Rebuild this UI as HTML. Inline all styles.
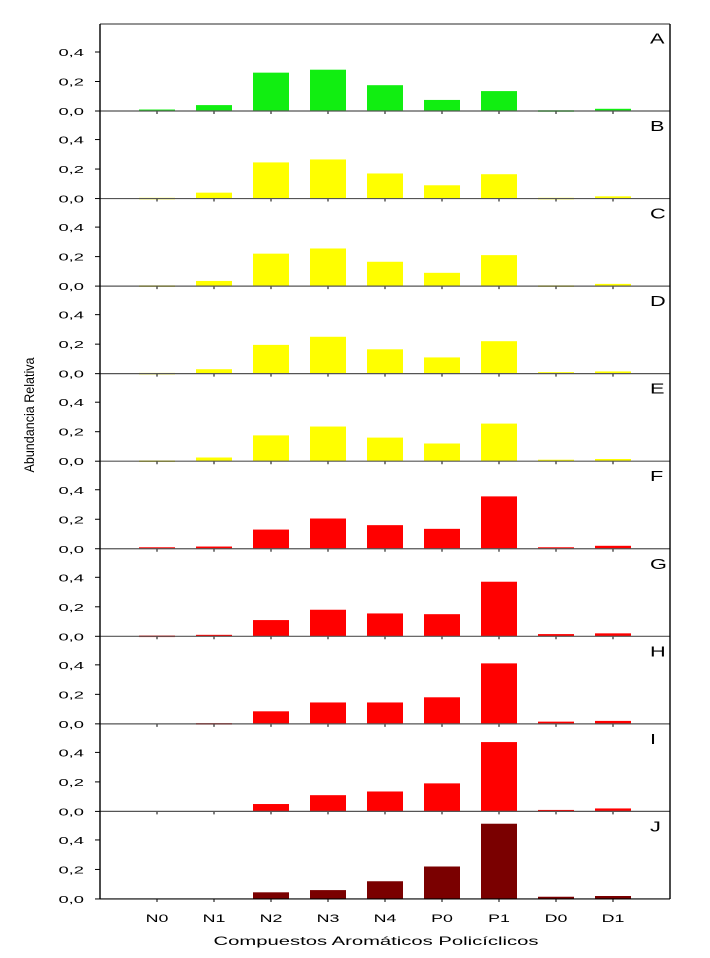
<!DOCTYPE html>
<html><head><meta charset="utf-8"><style>
html,body{margin:0;padding:0;background:#fff;}
svg{display:block;font-family:"Liberation Sans",Arial,sans-serif;}
</style></head><body>
<svg id="s" width="710" height="958" xmlns="http://www.w3.org/2000/svg"></svg>
<script>
const s=document.getElementById('s');
const data={
A:[.01,.04,.26,.28,.175,.075,.135,.005,.015],
B:[.005,.04,.245,.265,.17,.09,.165,.005,.015],
C:[.005,.035,.22,.255,.165,.09,.21,.005,.015],
D:[.005,.03,.195,.25,.165,.11,.22,.01,.015],
E:[.005,.025,.175,.235,.16,.12,.255,.01,.015],
F:[.01,.015,.13,.205,.16,.135,.355,.01,.02],
G:[.005,.01,.11,.18,.155,.15,.37,.015,.02],
H:[0,.005,.085,.145,.145,.18,.41,.015,.02],
I:[0,0,.05,.11,.135,.19,.47,.01,.02],
J:[0,0,.045,.06,.12,.22,.51,.015,.02]};
const cols={A:'#11ee11',B:'#ffff00',C:'#ffff00',D:'#ffff00',E:'#ffff00',F:'#ff0000',G:'#ff0000',H:'#ff0000',I:'#ff0000',J:'#7a0000'};
const cats=['N0','N1','N2','N3','N4','P0','P1','D0','D1'];
const L=100,R=670,T=24,H=87.55,S=147.5;
function tx(x,y,t,fs,sx,anchor){return `<text transform="translate(${x},${y}) scale(${sx},1)" font-size="${fs}" text-anchor="${anchor}">${t}</text>`;}
let h='';
Object.keys(data).forEach((k,i)=>{
 const b=111+i*H;
 data[k].forEach((v,j)=>{
  const x=157+j*57;
  if(v>0)h+=`<rect x="${x-18}" y="${b-v*S}" width="36" height="${Math.max(v*S,1.5)}" fill="${cols[k]}"/>`;
  h+=`<line x1="${x}" y1="${b}" x2="${x}" y2="${b+3}" stroke="#000" stroke-width="1"/>`;
 });
 h+=`<line x1="${L}" y1="${b}" x2="${R}" y2="${b}" stroke="${i==9?'#000':'#555'}" stroke-width="1.2"/>`;
 [0,.2,.4].forEach((t,n)=>{
  const y=b-t*S;
  h+=`<line x1="${L-5}" y1="${y}" x2="${L}" y2="${y}" stroke="#000"/>`;
  h+=tx(84,y+4,['0,0','0,2','0,4'][n],10.5,1.75,'end');
 });
 h+=tx(650,b-H+20,k,15,1.45,'start');
});
h+=`<line x1="${L}" y1="${T}" x2="${R}" y2="${T}" stroke="#555" stroke-width="1.2"/>`;
h+=`<line x1="${L}" y1="${T}" x2="${L}" y2="899" stroke="#000" stroke-width="1.4"/>`;
h+=`<line x1="${R}" y1="${T}" x2="${R}" y2="899" stroke="#000" stroke-width="1.4"/>`;
cats.forEach((c,j)=>{h+=tx(157+j*57,922,c,11.5,1.55,'middle');});
h+=`<text x="376" y="945" font-size="12" text-anchor="middle" textLength="325" lengthAdjust="spacingAndGlyphs">Compuestos Aromáticos Policíclicos</text>`;
h+=`<text transform="translate(34,415) rotate(-90)" font-size="14" text-anchor="middle" textLength="115" lengthAdjust="spacingAndGlyphs">Abundancia Relativa</text>`;
s.innerHTML=h;
</script>
</body></html>
